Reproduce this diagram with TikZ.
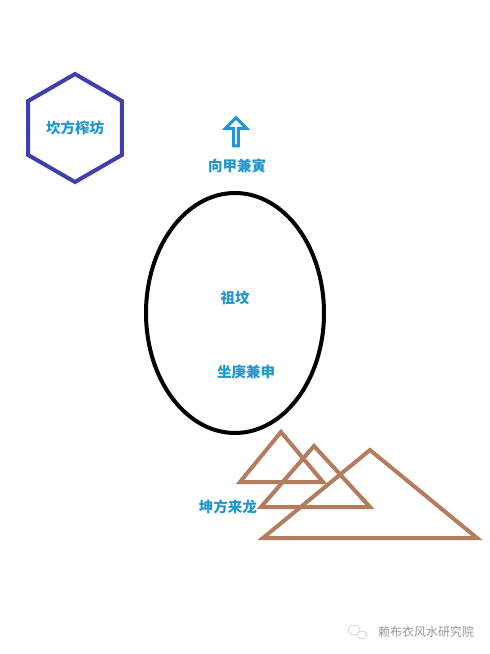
\documentclass[tikz,border=0pt]{standalone}
\usepackage{fontspec}
\setmainfont{Noto Sans CJK SC}
\usetikzlibrary{shapes, shapes.geometric, shapes.arrows, arrows.meta, positioning, calc}
\definecolor{cHexDraw}{RGB}{62, 62, 172}
\definecolor{cLabel}{RGB}{32, 150, 205}
\definecolor{cArrow}{RGB}{30, 150, 215}
\definecolor{cHill}{RGB}{180, 124, 92}
\definecolor{cMark}{RGB}{150, 150, 150}
\tikzset{
    font=\fontsize{14.5}{16}\selectfont,
    % 标注文字样式
    label/.style={text=cLabel, inner sep=0pt, font=\fontsize{14.5}{16}\selectfont\bfseries},
    % 山形样式
    hill/.style={draw=cHill, line width=4pt, line join=miter},
    % 水印样式
    markText/.style={text=cMark, font=\fontsize{12}{13}\selectfont, inner sep=0pt}
}

\begin{document}
\begin{tikzpicture}[x=1pt, y=-1pt]

	\useasboundingbox (0, 0) rectangle (490, 654);

	% ==========================================
	% 1. 坎方榨坊 (六边形)
	% ==========================================
	\node [regular polygon, regular polygon sides=6, shape border rotate=30,
		draw=cHexDraw, line width=4pt, minimum size=108pt, inner sep=0pt] (hexa) at (75, 128) {};
	\node [label] (hexLabel) at (hexa.center) {坎方榨坊};

	% ==========================================
	% 2. 朝向箭头
	% ==========================================
	\node [single arrow, shape border rotate=90, draw=cArrow, fill=white, line width=3pt,
		minimum height=28pt, minimum width=21pt, single arrow head extend=5pt,
		inner sep=0pt] (dirArrow) at (236, 133) {};
	\node [label] (dirLabel) at (237, 166) {向甲兼寅};

	% ==========================================
	% 3. 祖坟 (椭圆)
	% ==========================================
	\node [ellipse, draw=black, line width=4pt, minimum width=178pt, minimum height=240pt,
		inner sep=0pt] (tomb) at (235, 313) {};
	\node [label] (tombLabel) at (235, 298) {祖坟};
	\node [label] (seatLabel) at (246, 372) {坐庚兼申};

	% ==========================================
	% 4. 坤方来龙 (三座山)
	% ==========================================
	\coordinate (h1top) at (281, 432);
	\coordinate (h1l) at (240, 482);
	\coordinate (h1r) at (323, 482);
	\coordinate (h2top) at (314, 446);
	\coordinate (h2l) at (261, 507);
	\coordinate (h2r) at (370, 507);
	\coordinate (h3top) at (370, 450);
	\coordinate (h3l) at (263, 538);
	\coordinate (h3r) at (477, 538);

	\draw [hill] (h1top) -- (h1l) -- (h1r) -- cycle;
	\draw [hill] (h2top) -- (h2l) -- (h2r) -- cycle;
	\draw [hill] (h3top) -- (h3l) -- (h3r) -- cycle;

	\node [label, anchor=east] (dragonLabel) at (257, 507) {坤方来龙};

	% ==========================================
	% 5. 水印
	% ==========================================
	\draw [cMark!40, line width=0.8pt] (354, 630) ellipse (6pt and 5pt);
	\draw [cMark!40, line width=0.8pt, fill=white] (362, 635) ellipse (5pt and 4pt);
	\node [markText, anchor=west] (mark) at (378, 632) {赖布衣风水研究院};

\end{tikzpicture}
\end{document}
